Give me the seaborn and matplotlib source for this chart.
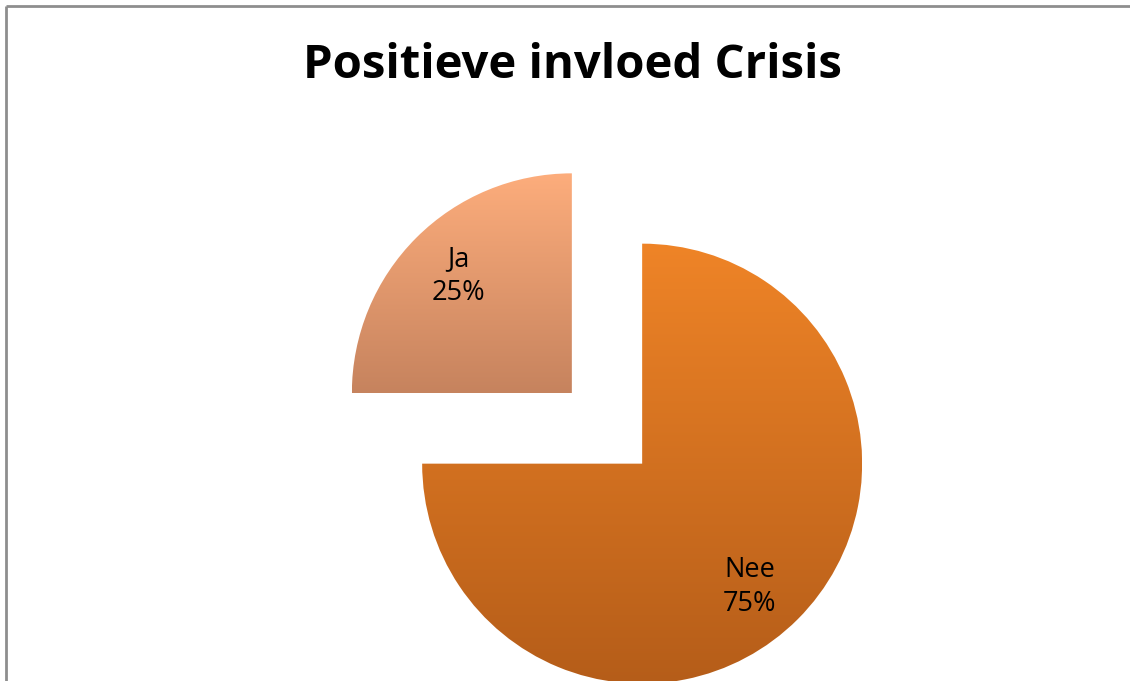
import numpy as np

import matplotlib
matplotlib.use("Agg")

import matplotlib.pyplot as plt
from matplotlib.colors import LinearSegmentedColormap
import seaborn as sns

# Chart data
labels = ["Ja", "Nee"]
shares = [25, 75]
top_colors = ["#FDAD7C", "#EF8427"]
bottom_colors = ["#C6835E", "#B55D19"]
title = "Positieve invloed Crisis"

W, H = 1130, 681


def main() -> None:
    sns.set_theme(style="white")
    plt.rcParams["font.family"] = ["Open Sans", "DejaVu Sans"]

    fig = plt.figure(figsize=(W / 100, H / 100), dpi=100)
    ax = fig.add_axes([0, 0, 1, 1])

    radius = 220
    # explode offset is in data units here (pixels), ~0.226 of the radius
    gap = 0.226 * radius
    wedges, texts = ax.pie(
        shares,
        labels=None,
        startangle=90,
        counterclock=True,
        radius=radius,
        center=(607, 252.5),
        explode=[gap, gap],
        frame=True,
    )
    ax.set_xlim(0, W)
    ax.set_ylim(0, H)
    ax.set_aspect("equal")
    ax.axis("off")

    # vertical gradient inside each slice
    for w, c_top, c_bot in zip(wedges, top_colors, bottom_colors):
        w.set_facecolor("none")
        w.set_edgecolor("none")
        bb = w.get_path().get_extents(w.get_transform() - ax.transData)
        cmap = LinearSegmentedColormap.from_list("g", [c_bot, c_top])
        grad = np.linspace(0, 1, 256).reshape(-1, 1)
        im = ax.imshow(
            grad,
            cmap=cmap,
            extent=[bb.x0, bb.x1, bb.y0, bb.y1],
            origin="lower",
            aspect="auto",
            zorder=1,
        )
        im.set_clip_path(w)

    ax.set_xlim(0, W)
    ax.set_ylim(0, H)

    # slice labels
    for lab, val, (x, y) in zip(labels, shares, [(458, 276), (750, 587)]):
        ax.text(x, H - y, f"{lab}\n{val}%", ha="center", va="center",
                fontsize=19.5, linespacing=1.3, color="black", zorder=3)

    ax.text(572, H - 66, title, ha="center", va="center",
            fontsize=34, fontweight="bold", color="black", zorder=3)

    # chart frame (left and top edges visible)
    ax.plot([6, 6], [-10, H - 6], color="#8E8E8E", lw=2, solid_capstyle="butt")
    ax.plot([6, W + 10], [H - 6, H - 6], color="#8E8E8E", lw=2, solid_capstyle="butt")

    fig.savefig("out.png", dpi=100)
    plt.close(fig)


if __name__ == "__main__":
    main()
